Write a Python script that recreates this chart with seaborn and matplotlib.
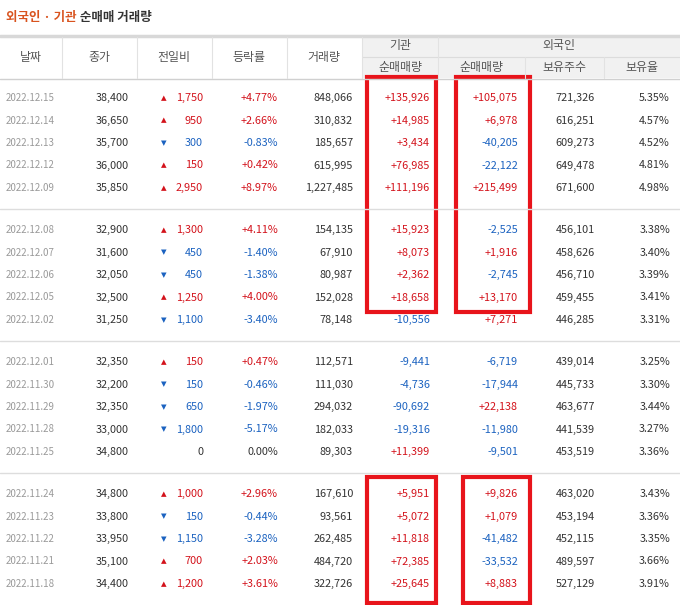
import matplotlib
matplotlib.use("Agg")
import matplotlib.pyplot as plt
import seaborn as sns
from matplotlib.patches import Rectangle

sns.set_theme(style="white")
plt.rcParams['font.family'] = ['Noto Sans CJK KR', 'DejaVu Sans']

dates = ["2022.12.15","2022.12.14","2022.12.13","2022.12.12","2022.12.09",
         "2022.12.08","2022.12.07","2022.12.06","2022.12.05","2022.12.02",
         "2022.12.01","2022.11.30","2022.11.29","2022.11.28","2022.11.25",
         "2022.11.24","2022.11.23","2022.11.22","2022.11.21","2022.11.18"]
close = [38400,36650,35700,36000,35850,32900,31600,32050,32500,31250,
         32350,32200,32350,33000,34800,34800,33800,33950,35100,34400]
change = [1750,950,-300,150,2950,1300,-450,-450,1250,-1100,
          150,-150,-650,-1800,0,1000,-150,-1150,700,1200]
pct = [4.77,2.66,-0.83,0.42,8.97,4.11,-1.40,-1.38,4.00,-3.40,
       0.47,-0.46,-1.97,-5.17,0.00,2.96,-0.44,-3.28,2.03,3.61]
volume = [848066,310832,185657,615995,1227485,154135,67910,80987,152028,78148,
          112571,111030,294032,182033,89303,167610,93561,262485,484720,322726]
inst_net = [135926,14985,3434,76985,111196,15923,8073,2362,18658,-10556,
            -9441,-4736,-90692,-19316,11399,5951,5072,11818,72385,25645]
frgn_net = [105075,6978,-40205,-22122,215499,-2525,1916,-2745,13170,7271,
            -6719,-17944,22138,-11980,-9501,9826,1079,-41482,-33532,8883]
frgn_hold = [721326,616251,609273,649478,671600,456101,458626,456710,459455,446285,
             439014,445733,463677,441539,453519,463020,453194,452115,489597,527129]
frgn_ratio = [5.35,4.57,4.52,4.81,4.98,3.38,3.40,3.39,3.41,3.31,
              3.25,3.30,3.44,3.27,3.36,3.43,3.36,3.35,3.66,3.91]
headers = ["날짜","종가","전일비","등락률","거래량"]

RED, BLUE, GRAY, TXT = "#d3121b", "#1b62c0", "#9a9a9a", "#333333"

fig = plt.figure(figsize=(6.8, 6.05), dpi=100)
ax = fig.add_axes([0, 0, 1, 1])
ax.set_xlim(0, 680); ax.set_ylim(605, 0); ax.axis("off")

fs = 7.8
hfs = 8.6
t1 = ax.text(6, 18, "외국인 · 기관", color="#d9531e", fontsize=9, fontweight="bold", va="center")
ax.annotate(" 순매매 거래량", xy=(1, 0.5), xycoords=t1, va="center", ha="left",
            color="#333333", fontsize=9, fontweight="bold")

# header
ax.add_patch(Rectangle((362, 37), 318, 41, color="#f1f1f1", lw=0))
ax.plot([0, 680], [36, 36], color="#d8d8d8", lw=2.5)
ax.plot([0, 680], [78.5, 78.5], color="#d0d0d0", lw=1)
ax.plot([362, 680], [57, 57], color="#dcdcdc", lw=0.8)
for x in [62, 137, 212, 287, 362, 438]:
    ax.plot([x, x], [37, 78], color="#e2e2e2", lw=0.8)
for x in [525, 604]:
    ax.plot([x, x], [57, 78], color="#e2e2e2", lw=0.8)
cx = [31, 99, 174, 249, 324]
for c, h in zip(cx, headers):
    ax.text(c, 57, h, ha="center", va="center", fontsize=hfs, color="#555555")
ax.text(400, 46, "기관", ha="center", va="center", fontsize=hfs, color="#555555")
ax.text(559, 46, "외국인", ha="center", va="center", fontsize=hfs, color="#555555")
for c, h in zip([400, 481, 564, 642], ["순매매량","순매매량","보유주수","보유율"]):
    ax.text(c, 67, h, ha="center", va="center", fontsize=hfs, color="#555555")

def col(v):
    return RED if v > 0 else (BLUE if v < 0 else TXT)

for i in range(len(dates)):
    g, r = divmod(i, 5)
    y = 98 + g * 132 + r * 22.5
    ax.text(6, y, dates[i], va="center", fontsize=7, color=GRAY)
    ax.text(129, y, f"{close[i]:,}", ha="right", va="center", fontsize=fs, color=TXT)
    ch = change[i]
    if ch != 0:
        ax.text(164, y, "▲" if ch > 0 else "▼", ha="center", va="center", fontsize=5.2,
                color=col(ch), family="DejaVu Sans")
    ax.text(203, y, f"{abs(ch):,}", ha="right", va="center", fontsize=fs, color=col(ch))
    ax.text(278, y, f"{pct[i]:+.2f}%" if pct[i] != 0 else "0.00%", ha="right", va="center",
            fontsize=fs, color=col(pct[i]))
    ax.text(353, y, f"{volume[i]:,}", ha="right", va="center", fontsize=fs, color=TXT)
    ax.text(430, y, f"{inst_net[i]:+,}", ha="right", va="center", fontsize=fs, color=col(inst_net[i]))
    ax.text(518, y, f"{frgn_net[i]:+,}", ha="right", va="center", fontsize=fs, color=col(frgn_net[i]))
    ax.text(595, y, f"{frgn_hold[i]:,}", ha="right", va="center", fontsize=fs, color=TXT)
    ax.text(670, y, f"{frgn_ratio[i]:.2f}%", ha="right", va="center", fontsize=fs, color=TXT)
for g in range(3):
    yy = 209 + g * 132
    ax.plot([0, 680], [yy, yy], color="#dddddd", lw=1)

for (x0, y0, x1, y1) in [(367, 77, 436, 312), (456, 77, 530, 312),
                         (367, 477, 436, 603), (463, 477, 530, 603)]:
    ax.add_patch(Rectangle((x0, y0), x1 - x0, y1 - y0, fill=False, ec="#e8141b", lw=3))

fig.savefig("out.png", dpi=100, facecolor="white")
